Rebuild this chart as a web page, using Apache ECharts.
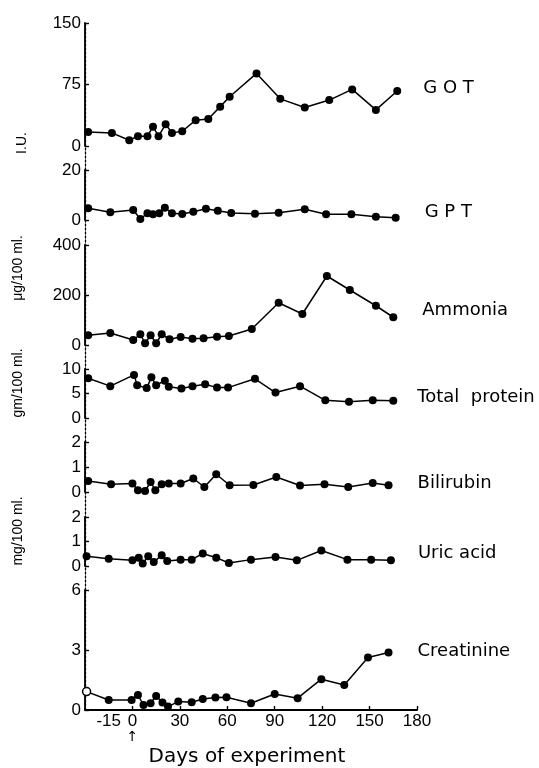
<!DOCTYPE html>
<html><head><meta charset="utf-8">
<script src="https://cdn.jsdelivr.net/npm/echarts@6/dist/echarts.min.js"></script>
<style>html,body{margin:0;padding:0;background:#fff}#c{width:539px;height:768px}</style>
</head><body><div id="c"></div>
<script>
// ---- data ----
const xTickLabels = [-15, 0, 30, 60, 90, 120, 150, 180];
const xTickMarks = [0, 30, 60, 90, 120, 150, 180];

const gotDays = [-28, -13, -2, 3.5, 9.5, 13, 16.5, 21, 25, 31.5, 40, 48, 55.5, 61.5, 78.5, 93.5, 109, 124.5, 139, 154, 167.5];
const gotVals = [17, 16, 7, 12, 12, 23.5, 12, 26.5, 16, 18, 31.5, 33, 48, 60, 88.5, 57.5, 47, 56, 69, 44, 67];

const gptDays = [-28, -14, 0.5, 5, 9.5, 13, 17, 20.5, 25, 31.5, 38.5, 46.5, 54, 62.5, 77.5, 92.5, 109, 122.5, 138.5, 154, 166.5];
const gptVals = [4.7, 3.1, 4, 0.4, 2.7, 2.3, 2.7, 4.9, 2.7, 2.4, 3.3, 4.5, 3.7, 2.8, 2.5, 2.9, 4.3, 2.3, 2.3, 1.3, 0.9];

const nh3Days = [-28, -14, 0.5, 5, 8, 11.5, 15, 18.5, 23.5, 30.5, 38, 45, 53.5, 61, 75.5, 92.5, 107.5, 123, 137.5, 154, 165];
const nh3Vals = [39, 48, 20, 43, 7, 39, 7, 43, 23, 32, 25, 27, 33, 36, 64, 169, 124, 276, 220, 157, 111];

const tpDays = [-28, -14, 1, 3, 9, 12, 15, 20.5, 23, 31, 38, 46, 53.5, 60.5, 77.5, 90.5, 106, 122, 137, 152, 165];
const tpVals = [8.1, 6.5, 8.8, 6.7, 6.1, 8.3, 6.7, 7.6, 6.4, 6.0, 6.5, 6.9, 6.2, 6.2, 8.0, 5.2, 6.5, 3.6, 3.3, 3.6, 3.5];

const biliDays = [-28, -13.5, 0, 3.5, 8, 11.5, 14.5, 18.5, 23, 30.5, 38.5, 45.5, 53, 61.5, 76.5, 91, 106, 121.5, 136.5, 152, 162];
const biliVals = [0.44, 0.31, 0.34, 0.07, 0.04, 0.40, 0.07, 0.31, 0.34, 0.34, 0.54, 0.2, 0.71, 0.27, 0.28, 0.6, 0.26, 0.31, 0.2, 0.36, 0.27];

const uricDays = [-29, -15, 0, 4, 6.5, 10, 13.5, 18.5, 22, 30.5, 37.5, 44.5, 53, 61, 75, 90.5, 104, 119.5, 136, 151, 163.5];
const uricVals = [0.4, 0.3, 0.23, 0.34, 0.1, 0.4, 0.16, 0.44, 0.2, 0.26, 0.26, 0.51, 0.34, 0.12, 0.26, 0.37, 0.23, 0.63, 0.26, 0.26, 0.23];

const creatDays = [-29, -15, -0.5, 3.5, 7, 11.5, 15, 19, 22.5, 29, 37.5, 44.5, 52.5, 59.5, 75, 90, 104.5, 119.5, 134, 149, 162];
const creatVals = [0.92, 0.5, 0.5, 0.75, 0.25, 0.34, 0.7, 0.37, 0.17, 0.42, 0.39, 0.55, 0.62, 0.64, 0.34, 0.8, 0.59, 1.54, 1.25, 2.62, 2.87];

const panelNames = ['G O T', 'G P T', 'Ammonia', 'Total  protein', 'Bilirubin', 'Uric acid', 'Creatinine'];
const panelDays = [gotDays, gptDays, nh3Days, tpDays, biliDays, uricDays, creatDays];
const panelVals = [gotVals, gptVals, nh3Vals, tpVals, biliVals, uricVals, creatVals];
const panelMax = [150, 20, 400, 10, 2, 2, 6];
const panelStep = [75, 20, 200, 5, 1, 1, 3];
const unitNames = ['I.U.', 'μg/100 ml.', 'gm/100 ml.', 'mg/100 ml.'];

// ---- layout (pixels) ----
const plotLeft = 85, plotWidth = 332;
const layout = [
  {top: 23, height: 123, dx: 26, dy: -3},
  {top: 170, height: 50, dx: 29, dy: -5},
  {top: 245, height: 100, dx: 29, dy: -7},
  {top: 369, height: 49, dx: 24, dy: -4},
  {top: 442, height: 50, dx: 29, dy: -2},
  {top: 517, height: 49, dx: 27, dy: -7},
  {top: 590, height: 120, dx: 29, dy: -1}
];
const unitPos = [[22, 143], [18, 268], [18, 383], [18, 531]];

const tickFont = 'Liberation Sans';
const grids = [], xAxes = [], yAxes = [], series = [];
layout.forEach((L, i) => {
  grids.push({left: plotLeft, width: plotWidth, top: L.top, height: L.height});
  const bottom = i === layout.length - 1;
  xAxes.push({
    type: 'value', gridIndex: i, min: -30, max: 180, show: bottom,
    axisLine: {onZero: false, lineStyle: {color: '#000', width: 1.8}},
    axisTick: {inside: true, length: 4, customValues: xTickMarks, lineStyle: {color: '#000', width: 1.4}},
    axisLabel: {
      customValues: xTickLabels, margin: 3, color: '#000', fontFamily: tickFont, fontSize: 17,
      formatter: v => v === 0 ? '0\n{a|↑}' : String(v),
      rich: {a: {fontFamily: 'DejaVu Sans', fontSize: 14, lineHeight: 15, color: '#000'}}
    },
    splitLine: {show: false},
    name: bottom ? 'Days of experiment' : '', nameLocation: 'middle', nameGap: 37,
    nameTextStyle: {fontFamily: 'DejaVu Sans', fontSize: 20, color: '#000', padding: [0, 8, 0, 0]}
  });
  yAxes.push({
    type: 'value', gridIndex: i, min: 0, max: panelMax[i], interval: panelStep[i],
    axisLine: {show: true, onZero: false, lineStyle: {color: '#000', width: 1.8}},
    axisTick: {show: true, inside: true, length: 4, lineStyle: {color: '#000', width: 1.4}},
    axisLabel: {margin: 4, color: '#000', fontFamily: tickFont, fontSize: 17},
    splitLine: {show: false}
  });
  const days = panelDays[i], vals = panelVals[i];
  series.push({
    type: 'line', name: panelNames[i], xAxisIndex: i, yAxisIndex: i,
    data: days.map((d, j) => {
      const item = {value: [d, vals[j]]};
      if (i === 6 && j === 0) item.itemStyle = {color: '#fff', borderColor: '#000', borderWidth: 1.5};
      return item;
    }),
    symbol: 'circle', symbolSize: 8, clip: false,
    lineStyle: {color: '#000', width: 1.5},
    itemStyle: {color: '#000'},
    endLabel: {
      show: true, formatter: '{a}', distance: 0, offset: [L.dx, L.dy],
      fontFamily: 'DejaVu Sans', fontSize: 18, color: '#000'
    },
    animation: false
  });
});
// background dotted axis line spanning all panels
const bgIdx = layout.length;
grids.push({left: plotLeft, width: plotWidth, top: 23, height: 687, z: 0});
xAxes.push({type: 'value', gridIndex: bgIdx, min: -30, max: 180, show: false});
yAxes.push({
  type: 'value', gridIndex: bgIdx, min: 0, max: 1, z: 0,
  axisLine: {show: true, onZero: false, lineStyle: {color: '#000', width: 1.3, type: [2, 2]}},
  axisTick: {show: false}, axisLabel: {show: false}, splitLine: {show: false}
});

const graphics = unitNames.map((t, k) => ({
  type: 'text', x: unitPos[k][0], y: unitPos[k][1], rotation: Math.PI / 2,
  style: {text: t, fontFamily: 'Liberation Sans', fontSize: 14, fill: '#000', align: 'center', verticalAlign: 'middle'}
}));

const chart = echarts.init(document.getElementById('c'), null, {renderer: 'canvas'});
chart.setOption({
  backgroundColor: '#fff', animation: false,
  grid: grids, xAxis: xAxes, yAxis: yAxes, series: series, graphic: graphics
});
</script></body></html>
